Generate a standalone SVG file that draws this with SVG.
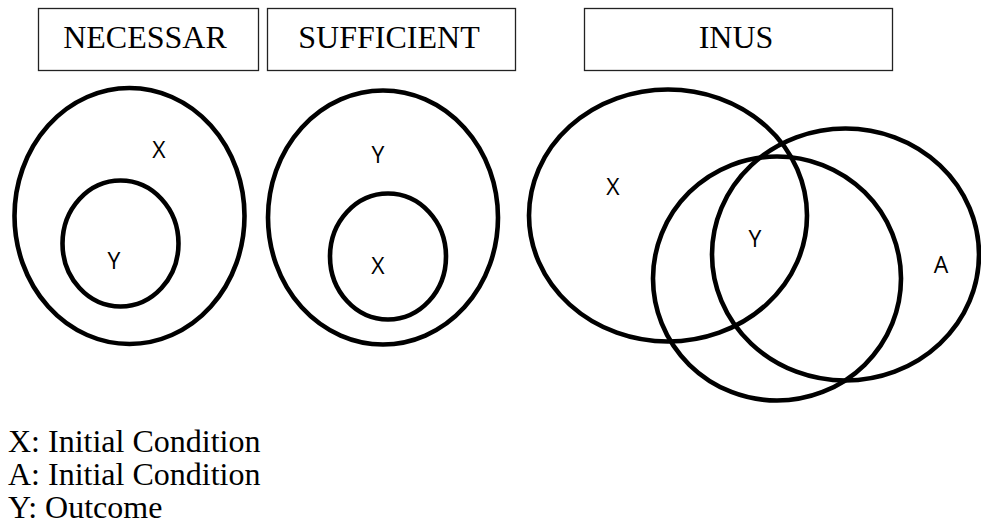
<svg xmlns="http://www.w3.org/2000/svg" width="981" height="529" viewBox="0 0 981 529">
<style>
.box{fill:#fff;stroke:#222;stroke-width:1.3}
.title{font-family:'Liberation Serif','Times New Roman',serif;font-size:32px;fill:#000;text-anchor:middle}
.set{fill:none;stroke:#000;stroke-width:4.6}
.lbl{font-family:'Open Sans','Noto Sans',sans-serif;font-size:23px;fill:#000;text-anchor:middle}
.legend{font-family:'Liberation Serif','Times New Roman',serif;font-size:32px;fill:#000}
</style>
<rect width="981" height="529" fill="#fff"/>
<g id="necessar">
<rect class="box" x="38.5" y="8.5" width="220" height="62"/>
<text class="title" x="145" y="48">NECESSAR</text>
</g>
<g id="sufficient">
<rect class="box" x="267.5" y="8.5" width="248" height="62"/>
<text class="title" x="389" y="48">SUFFICIENT</text>
</g>
<g id="inus">
<rect class="box" x="584.5" y="8.5" width="308" height="62"/>
<text class="title" x="736" y="48">INUS</text>
</g>
<g id="nec-x">
<ellipse class="set" cx="129.5" cy="216" rx="115" ry="128"/>
<text class="lbl" x="159" y="158">X</text>
</g>
<g id="nec-y">
<ellipse class="set" cx="120.5" cy="243.5" rx="58" ry="63"/>
<text class="lbl" x="114" y="269">Y</text>
</g>
<g id="suf-y">
<ellipse class="set" cx="383" cy="217.5" rx="115" ry="127"/>
<text class="lbl" x="378" y="163">Y</text>
</g>
<g id="suf-x">
<ellipse class="set" cx="388" cy="256.5" rx="58" ry="63"/>
<text class="lbl" x="378" y="274">X</text>
</g>
<g id="inus-x">
<ellipse class="set" cx="668" cy="215.5" rx="139" ry="126"/>
<text class="lbl" x="613" y="195">X</text>
</g>
<g id="inus-y">
<ellipse class="set" cx="777" cy="278.5" rx="124" ry="122"/>
<text class="lbl" x="755" y="247">Y</text>
</g>
<g id="inus-a">
<ellipse class="set" cx="845.5" cy="254.5" rx="133.5" ry="126"/>
<text class="lbl" x="941" y="273">A</text>
</g>
<g id="connectors"></g>
<g id="legend">
<text class="legend" x="8" y="452">X: Initial Condition</text>
<text class="legend" x="8" y="485">A: Initial Condition</text>
<text class="legend" x="8" y="518">Y: Outcome</text>
</g>
</svg>
